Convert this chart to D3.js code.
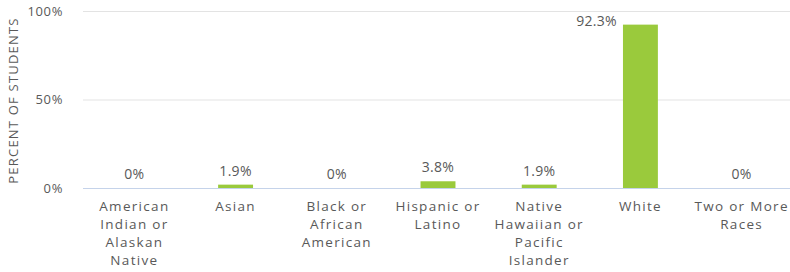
<!DOCTYPE html>
<html>
<head>
<meta charset="utf-8">
<script src="https://cdn.jsdelivr.net/npm/d3@7"></script>
<style>
  body { margin: 0; background: #fff; overflow: hidden; }
  text { font-family: "Open Sans", "Noto Sans", sans-serif; fill: #595959; }
</style>
</head>
<body>
<svg width="790" height="272"></svg>
<script>
var categories = [
  ["American", "Indian or", "Alaskan", "Native"],
  ["Asian"],
  ["Black or", "African", "American"],
  ["Hispanic or", "Latino"],
  ["Native", "Hawaiian or", "Pacific", "Islander"],
  ["White"],
  ["Two or More", "Races"]
];
var values = [0, 1.9, 0, 3.8, 1.9, 92.3, 0];
var valueLabels = ["0%", "1.9%", "0%", "3.8%", "1.9%", "92.3%", "0%"];
var yTicks = [0, 50, 100];

var svg = d3.select("svg"),
    margin = {top: 11, right: -3, bottom: 84, left: 83},
    width = +svg.attr("width") - margin.left - margin.right,
    height = +svg.attr("height") - margin.top - margin.bottom;

var x = d3.scaleBand().domain(d3.range(values.length)).range([0, width]).paddingInner(0.655).paddingOuter(0.335),
    y = d3.scaleLinear().domain([0, 100]).range([height, 0]);

var g = svg.append("g").attr("transform", "translate(" + margin.left + "," + margin.top + ")");

// gridlines
g.selectAll(".grid")
  .data(yTicks)
  .enter().append("line")
  .attr("x1", 0).attr("x2", width)
  .attr("y1", function(d) { return y(d) + 0.5; })
  .attr("y2", function(d) { return y(d) + 0.5; })
  .attr("stroke", function(d) { return d === 0 ? "#c5d3ea" : "#e3e3e3"; })
  .attr("stroke-width", 1);

// y tick labels
g.selectAll(".ytick")
  .data(yTicks)
  .enter().append("text")
  .attr("x", -20)
  .attr("y", function(d) { return y(d); })
  .attr("dy", "0.35em")
  .attr("text-anchor", "end")
  .style("font-size", "13px")
  .style("letter-spacing", "0.6px")
  .text(function(d) { return d + "%"; });

// axis title
svg.append("text")
  .attr("transform", "translate(18," + (margin.top + height / 2 + 1) + ") rotate(-90)")
  .attr("text-anchor", "middle")
  .style("font-size", "13px")
  .style("letter-spacing", "1.2px")
  .text("PERCENT OF STUDENTS");

// bars
g.selectAll(".bar")
  .data(values)
  .enter().append("rect")
  .attr("x", function(d, i) { return x(i); })
  .attr("y", function(d) { return y(d); })
  .attr("width", x.bandwidth())
  .attr("height", function(d) { return height - y(d); })
  .attr("fill", "#9aca3c");

// value labels
g.selectAll(".val")
  .data(values)
  .enter().append("text")
  .attr("x", function(d, i) { return d > 50 ? x(i) - 6 : x(i) + x.bandwidth() / 2; })
  .attr("y", function(d) { return d > 50 ? y(d) + 1 : y(d) - 9; })
  .attr("text-anchor", function(d) { return d > 50 ? "end" : "middle"; })
  .style("font-size", "14px")
  .style("letter-spacing", "0.3px")
  .text(function(d, i) { return valueLabels[i]; });

// category labels
var cat = g.selectAll(".cat")
  .data(categories)
  .enter().append("text")
  .attr("text-anchor", "middle")
  .style("font-size", "13.5px")
  .style("letter-spacing", "1.3px")
  .attr("transform", function(d, i) { return "translate(" + (x(i) + x.bandwidth() / 2) + "," + (height + 23) + ")"; });

cat.selectAll("tspan")
  .data(function(d) { return d; })
  .enter().append("tspan")
  .attr("x", 0)
  .attr("y", function(d, j) { return j * 18; })
  .text(function(d) { return d; });
</script>
</body>
</html>
